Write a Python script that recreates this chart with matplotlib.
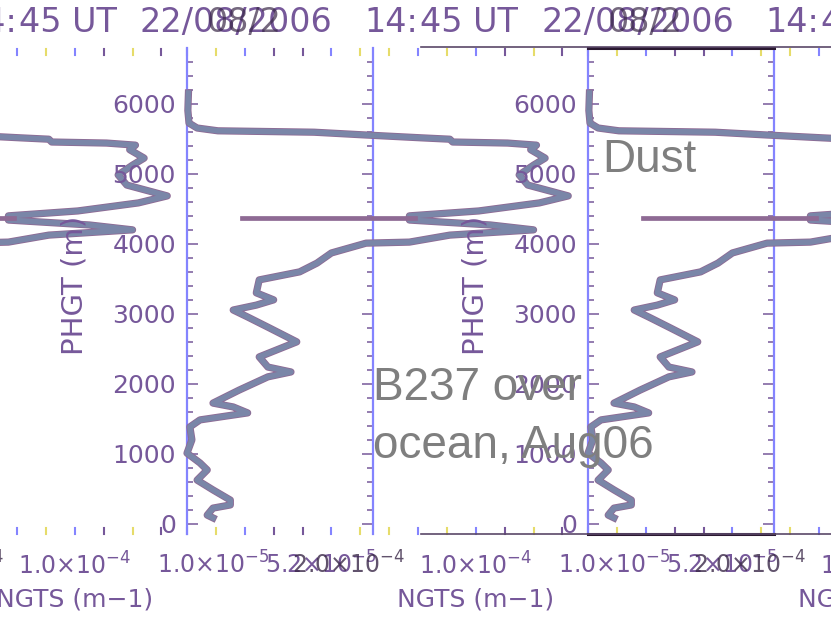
import matplotlib
matplotlib.use("Agg")
import matplotlib.pyplot as plt
from matplotlib.lines import Line2D
from matplotlib.ticker import MultipleLocator

# NGTS extinction profile (units of 1e-6 m-1) against pressure height (m)
phgt = [6150, 5900, 5720, 5650, 5610, 5590, 5550, 5510, 5490, 5450, 5435, 5405,
        5340, 5220, 5120, 4980, 4835, 4680, 4580, 4465, 4395, 4335, 4265, 4195,
        4120, 4020, 4005, 3865, 3720, 3595, 3480, 3295, 3195, 3120, 3050, 2950,
        2805, 2595, 2380, 2235, 2165, 2095, 1905, 1720, 1665, 1580, 1480, 1380,
        1195, 1005, 865, 765, 620, 480, 335, 265, 220, 120, 80]
ngts = [0.5, 0.3, 0.7, 3.5, 10.7, 44, 62, 81, 91, 92, 111, 121,
        119, 124, 120, 115, 118, 132, 122, 101, 77, 77, 105, 120,
        91, 77, 62, 50, 45, 39, 25, 24, 30, 24, 16, 21,
        28, 38, 25, 28, 36, 28, 18, 9, 16, 21, 4.5, 1,
        1.7, 0, 4.5, 7, 3.5, 9, 15, 15, 9, 7, 9]

# narrow layer spike
spike_phgt = [4365, 4365]
spike_ngts = [19, 79]

UNIT = 1e-6
yticks = [0, 1000, 2000, 3000, 4000, 5000, 6000]
title_parts = ["14:", "45 UT", "22/08/2006"]

W, H = 831, 622
PERIOD = 401
SPINE_L, SPINE_R = 187, 373
TOP, BOT = 48, 534

PURPLE = "#76589a"
DARK = "#3a2848"
BLUE = "#8484ff"
YELLOW = "#e6dc6a"
CURVE = "#7a86a8"
EDGE = "#8e6a94"
tick_colors = [BLUE, YELLOW, BLUE, PURPLE, PURPLE, BLUE, YELLOW,
               YELLOW, BLUE, YELLOW, BLUE, PURPLE, YELLOW, PURPLE]

fig = plt.figure(figsize=(W / 100, H / 100), dpi=100)
fig.patch.set_facecolor("white")


def ftext(x, y, s, **kw):
    return fig.text(x / W, 1 - y / H, s, **kw)


for k in (-1, 0, 1):
    x0 = SPINE_L + PERIOD * k
    ax = fig.add_axes([x0 / W, (H - BOT) / H, (SPINE_R - SPINE_L) / W, (BOT - TOP) / H])
    ax.set_facecolor("none")
    ax.set_xlim(0, 6.44e-5)
    ax.set_ylim(-150, 6793)

    xs = [v * UNIT for v in ngts]
    ax.plot(xs, phgt, color=EDGE, lw=5.2, clip_on=False, zorder=3)
    ax.plot(xs, phgt, color=CURVE, lw=4.0, clip_on=False, zorder=4)
    ax.plot([v * UNIT for v in spike_ngts], spike_phgt, color=EDGE, lw=3.4,
            clip_on=False, zorder=4)

    for side in ("left", "right"):
        ax.spines[side].set_color(BLUE)
        ax.spines[side].set_linewidth(1.6)
    for side in ("top", "bottom"):
        if k == 1:
            ax.spines[side].set_color("#2a1830")
            ax.spines[side].set_linewidth(2.2)
        else:
            ax.spines[side].set_visible(False)

    ax.set_xticks([])
    ax.set_yticks(yticks)
    ax.set_yticklabels([str(t) for t in yticks])
    ax.yaxis.set_minor_locator(MultipleLocator(200))
    ax.tick_params(axis="y", which="both", direction="in", left=True, right=True,
                   color=PURPLE, width=1.1, labelsize=18, labelcolor=PURPLE, pad=8)
    ax.tick_params(axis="y", which="major", length=8)
    ax.tick_params(axis="y", which="minor", length=4)

    # x tick marks every 1e-5 along top and bottom
    tr = ax.get_xaxis_transform()
    for j in range(14):
        c = tick_colors[j]
        ax.plot([j * 1e-5] * 2, [1.0 - 7 / (BOT - TOP), 1.0 - 1 / (BOT - TOP)],
                transform=tr, color=c, lw=1.5, clip_on=False)
        ax.plot([j * 1e-5] * 2, [0.0, 6 / (BOT - TOP)],
                transform=tr, color=c, lw=1.5, clip_on=False)

    # tick labels and axis titles
    ftext(x0 - 30, 565, "1.0×10$^{-5}$", fontsize=17, color=PURPLE, ha="left", va="center")
    ftext(x0 + 78, 565, "5.2×10$^{-5}$", fontsize=17, color=PURPLE, ha="left", va="center")
    ftext(x0 + 105, 565, "2.0×10$^{-4}$", fontsize=17, color=DARK, alpha=0.8,
          ha="left", va="center")
    ax.text(1.0e-4, -0.065, "1.0×10$^{-4}$", transform=tr,
            fontsize=17, color=PURPLE, ha="center", va="center", clip_on=False)
    ax.text(1.0e-4, -0.135, "NGTS (m\u22121)", transform=tr,
            fontsize=18, color=PURPLE, ha="center", va="center", clip_on=False)
    ftext(x0 - 112, 285, "PHGT (m)", fontsize=21, color=PURPLE, rotation=90,
          ha="center", va="center")

    # time stamp, written in pieces to keep the wide spacing
    for part, dx in zip(title_parts, (177, 233, 354)):
        ftext(x0 + dx, 32, part, fontsize=24, color=PURPLE, ha="left", va="baseline")
    ftext(x0 + 421, 32, "08/2", fontsize=24, color=DARK, alpha=0.7,
          ha="left", va="baseline")

# frame rules along the right-hand panel
for y in (TOP - 1, BOT):
    fig.add_artist(Line2D([421 / W, 1.0], [1 - y / H] * 2, color="#5a4868", lw=1.2))

ann = dict(fontsize=33, color="#7f7f7f", family="Liberation Sans", ha="left", va="baseline")
ftext(602, 172, "Dust", **ann)
ftext(373, 400, "B237 over", **ann)
ftext(373, 458, "ocean, Aug06", **ann)

fig.savefig("out.png", dpi=100)
